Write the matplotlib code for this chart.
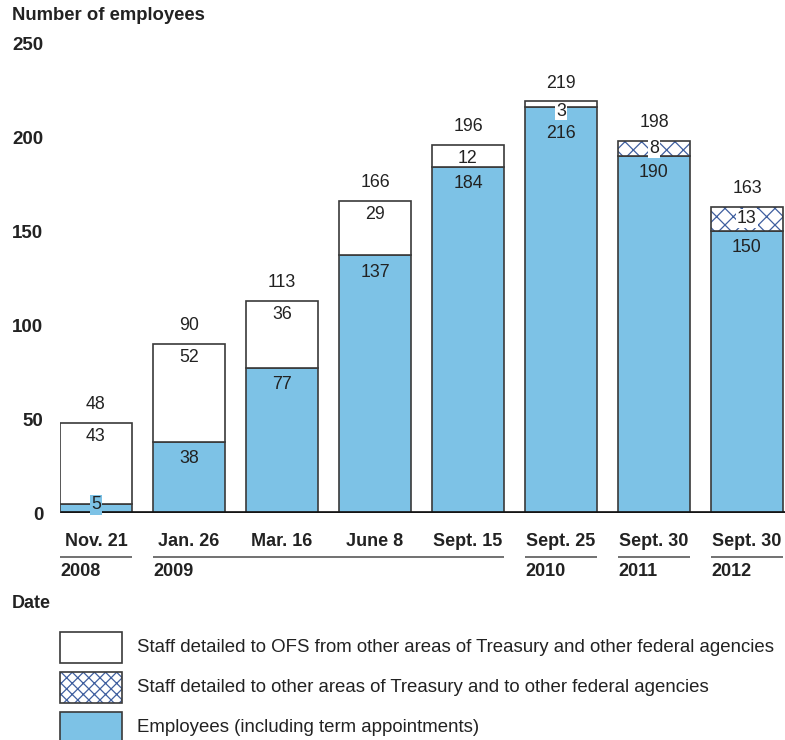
import matplotlib
matplotlib.use("Agg")
import matplotlib.pyplot as plt
from matplotlib.patches import Rectangle

plt.rcParams['font.family'] = ['Liberation Sans', 'DejaVu Sans']
plt.rcParams['hatch.linewidth'] = 0.9

dates = ["Nov. 21", "Jan. 26", "Mar. 16", "June 8", "Sept. 15", "Sept. 25", "Sept. 30", "Sept. 30"]
years = ["2008", "2009", "2010", "2011", "2012"]
year_first = [0, 1, 5, 6, 7]
year_last = [0, 4, 5, 6, 7]

employees = [5, 38, 77, 137, 184, 216, 190, 150]
detailed_in = [43, 52, 36, 29, 12, 3, 0, 0]
detailed_out = [0, 0, 0, 0, 0, 0, 8, 13]

legend_labels = [
    "Staff detailed to OFS from other areas of Treasury and other federal agencies",
    "Staff detailed to other areas of Treasury and to other federal agencies",
    "Employees (including term appointments)",
]

BLUE = "#7dc2e6"
HATCH = "#3f5f9f"
EDGE = "#3a3a3a"
TXT = "#222222"

W, H = 785, 740
fig = plt.figure(figsize=(W / 100, H / 100), dpi=100)
ax = fig.add_axes([60 / W, (H - 513) / H, 725 / W, 470 / H])

xs = list(range(len(dates)))
bw = 0.774

tops = [e + a + b for e, a, b in zip(employees, detailed_in, detailed_out)]

ax.bar(xs, employees, bw, color=BLUE, edgecolor=EDGE, linewidth=1.2, zorder=2)
ax.bar(xs, detailed_in, bw, bottom=employees, color="white", edgecolor=EDGE, linewidth=1.2, zorder=2)
# hatch takes the edge colour, so draw the cross-hatch first and outline it after
ax.bar(xs, detailed_out, bw, bottom=employees, color="white", edgecolor=HATCH, hatch="xx",
       linewidth=0, zorder=2)
ax.bar([x for x, v in zip(xs, detailed_out) if v], [v for v in detailed_out if v], bw,
       bottom=[e for e, v in zip(employees, detailed_out) if v],
       fill=False, edgecolor=EDGE, linewidth=1.2, zorder=3)

ax.axhline(0, color="#151515", linewidth=3.4, zorder=4, solid_capstyle="butt")

ax.set_xlim(-0.387, 7.409)
ax.set_ylim(0, 250)
ax.set_yticks([0, 50, 100, 150, 200, 250])
ax.set_yticklabels(["0", "50", "100", "150", "200", "250"], fontsize=13.5, fontweight="bold", color=TXT)
ax.tick_params(axis="y", length=0, pad=12)
ax.set_xticks([])
for s in ax.spines.values():
    s.set_visible(False)

num = dict(fontsize=12.8, color=TXT, ha="center", va="center", zorder=6, annotation_clip=False)

for i in xs:
    ax.annotate(str(tops[i]), (i, tops[i]), xytext=(0, 13), textcoords="offset points", **num)

    # employees
    if employees[i] < 8:
        ax.annotate(str(employees[i]), (i, employees[i]), xytext=(0, -1), textcoords="offset points",
                    bbox=dict(boxstyle="square,pad=0.08", fc=BLUE, ec="none"), **num)
    else:
        drop = -12
        if 0 < detailed_in[i] < 8:
            drop = -19
        ax.annotate(str(employees[i]), (i, employees[i]), xytext=(0, drop), textcoords="offset points", **num)

    # detailed to OFS
    if detailed_in[i] >= 8:
        ax.annotate(str(detailed_in[i]), (i, tops[i]), xytext=(0, -10), textcoords="offset points", **num)
    elif detailed_in[i] > 0:
        ax.annotate(str(detailed_in[i]), (i, employees[i]), xytext=(0, -3), textcoords="offset points",
                    bbox=dict(boxstyle="square,pad=0.05", fc="white", ec="none"), **num)

    # detailed out of OFS
    if detailed_out[i] > 0:
        ax.annotate(str(detailed_out[i]), (i, employees[i] + detailed_out[i] / 2), xytext=(0, 0),
                    textcoords="offset points",
                    bbox=dict(boxstyle="square,pad=0.05", fc="white", ec="none"), **num)

# dates, year rules and years under the baseline
px = 470 / 250
for i in xs:
    ax.text(i, -(542 - 513) / px, dates[i], fontsize=13, fontweight="bold", color=TXT,
            ha="center", va="center", clip_on=False)
for yr, a, b in zip(years, year_first, year_last):
    ax.plot([a - bw / 2, b + bw / 2], [-(557 - 513) / px] * 2, color="#666666", linewidth=1.3,
            clip_on=False, solid_capstyle="butt")
    ax.text(a - bw / 2, -(572 - 513) / px, yr, fontsize=13, fontweight="bold", color=TXT,
            ha="left", va="center", clip_on=False)

fig.text(12 / W, 1 - 16 / H, "Number of employees", fontsize=13.3, fontweight="bold", color=TXT,
         ha="left", va="center")
fig.text(12 / W, 1 - 604 / H, "Date", fontsize=13, fontweight="bold", color=TXT,
         ha="left", va="center")

# legend drawn by hand in figure pixels
boxes = [dict(fc="white", hatch=None), dict(fc="white", hatch="xxx"), dict(fc=BLUE, hatch=None)]
for k, (lab, st) in enumerate(zip(legend_labels, boxes)):
    y0 = 632 + 40 * k
    if st["hatch"]:
        fig.add_artist(Rectangle((60 / W, 1 - (y0 + 31) / H), 62 / W, 31 / H, transform=fig.transFigure,
                                 fc=st["fc"], ec=HATCH, hatch=st["hatch"], lw=0))
        fig.add_artist(Rectangle((60 / W, 1 - (y0 + 31) / H), 62 / W, 31 / H, transform=fig.transFigure,
                                 fill=False, ec=EDGE, lw=1.2))
    else:
        fig.add_artist(Rectangle((60 / W, 1 - (y0 + 31) / H), 62 / W, 31 / H, transform=fig.transFigure,
                                 fc=st["fc"], ec=EDGE, lw=1.2))
    fig.text(137 / W, 1 - (y0 + 16) / H, lab, fontsize=13.4, color=TXT, ha="left", va="center")

fig.savefig("out.png", dpi=100)
